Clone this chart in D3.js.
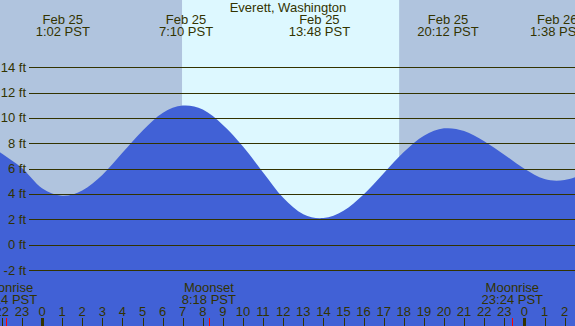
<!DOCTYPE html>
<html>
<head>
<meta charset="utf-8">
<script src="https://cdn.jsdelivr.net/npm/d3@7"></script>
<style>
  body { margin: 0; padding: 0; overflow: hidden; }
  svg { display: block; font-family: 'Liberation Sans', Arial, sans-serif; }
</style>
</head>
<body>
<svg id="chart" width="575" height="326"></svg>
<script>
'use strict';

var title = 'Everett, Washington';

// tide height (ft) at each hour, Feb 25 (hour 0 = midnight)
var tideHours = [-3, -2, -1, 0, 1, 2, 3, 4, 5, 6, 7, 8, 9, 10, 11, 12, 13, 14,
  15, 16, 17, 18, 19, 20, 21, 22, 23, 24, 25, 26, 27];
var tideFeet = [8.3, 7.2, 6.05, 4.45, 3.86, 4.28, 5.5, 7.25, 9.0, 10.4, 10.98,
  10.66, 9.45, 7.75, 5.7, 3.7, 2.4, 2.1, 2.68, 3.96, 5.64, 7.31, 8.6, 9.18,
  8.97, 8.17, 7.1, 6.0, 5.18, 5.1, 5.6];

// high / low tide labels at top
var extremeHours = [1.033, 7.167, 13.8, 20.2, 25.633];
var extremeDates = ['Feb 25', 'Feb 25', 'Feb 25', 'Feb 25', 'Feb 26'];
var extremeTimes = ['1:02 PST', '7:10 PST', '13:48 PST', '20:12 PST', '1:38 PST'];

// daylight
var sunrise = 6.967;
var sunset = 17.767;

// moon events
var moonHours = [-1.767, 8.3, 23.4];
var moonNames = ['Moonrise', 'Moonset', 'Moonrise'];
var moonTimes = ['22:14 PST', '8:18 PST', '23:24 PST'];

var feetTicks = [-2, 0, 2, 4, 6, 8, 10, 12, 14];
var hourTicks = d3.range(-2, 27);

var W = 575, H = 326;
var svg = d3.select('#chart');

var x = d3.scaleLinear().domain([0, 24]).range([42, 524.4]);
var y = d3.scaleLinear().domain([-2, 14]).range([270, 67.3]);

var ink = '#333300';

// night background
svg.append('rect').attr('x', 0).attr('y', 0).attr('width', W).attr('height', H)
  .attr('fill', '#b0c4de');

// day band
svg.append('rect')
  .attr('x', x(sunrise)).attr('y', 0)
  .attr('width', x(sunset) - x(sunrise)).attr('height', H)
  .attr('fill', '#ddf8ff');

// water
var tide = tideHours.map(function (h, i) { return { h: h, v: tideFeet[i] }; });
var area = d3.area()
  .x(function (d) { return x(d.h); })
  .y0(H)
  .y1(function (d) { return y(d.v); })
  .curve(d3.curveCardinal);
svg.append('path').datum(tide).attr('d', area).attr('fill', '#4161d6');

// grid lines + labels
var grid = svg.append('g');
grid.selectAll('line').data(feetTicks).enter().append('line')
  .attr('x1', 29).attr('x2', W)
  .attr('y1', function (d) { return Math.round(y(d)) + 0.5; })
  .attr('y2', function (d) { return Math.round(y(d)) + 0.5; })
  .attr('stroke', ink).attr('stroke-width', 1);
grid.selectAll('text').data(feetTicks).enter().append('text')
  .attr('x', 26)
  .attr('y', function (d) { return y(d) + 4.5; })
  .attr('text-anchor', 'end')
  .attr('font-size', 13)
  .attr('fill', ink)
  .text(function (d) { return d + ' ft'; });

// title
svg.append('text').attr('x', 288).attr('y', 12).attr('text-anchor', 'middle')
  .attr('font-size', 13).attr('fill', ink).text(title);

// tide extreme labels
var topLabels = svg.append('g').attr('font-size', 13).attr('fill', ink).attr('text-anchor', 'middle');
extremeHours.forEach(function (h, i) {
  topLabels.append('text').attr('x', x(h)).attr('y', 24).text(extremeDates[i]);
  topLabels.append('text').attr('x', x(h)).attr('y', 36).text(extremeTimes[i]);
});

// moon labels
var moon = svg.append('g').attr('font-size', 13).attr('fill', ink).attr('text-anchor', 'middle');
moonHours.forEach(function (h, i) {
  moon.append('text').attr('x', x(h)).attr('y', 292).text(moonNames[i]);
  moon.append('text').attr('x', x(h)).attr('y', 304).text(moonTimes[i]);
});

// hour axis
var hrs = svg.append('g');
hrs.selectAll('text').data(hourTicks).enter().append('text')
  .attr('x', function (d) { return x(d); })
  .attr('y', 316)
  .attr('text-anchor', 'middle')
  .attr('font-size', 13)
  .attr('fill', ink)
  .text(function (d) { return (d + 24) % 24; });
hrs.selectAll('line').data(hourTicks).enter().append('line')
  .attr('x1', function (d) { return Math.round(x(d)) + 0.5; })
  .attr('x2', function (d) { return Math.round(x(d)) + 0.5; })
  .attr('y1', 318).attr('y2', H)
  .attr('stroke', ink)
  .attr('stroke-width', function (d) { return d % 24 === 0 ? 3 : 1; });

// moon ticks
svg.append('g').selectAll('line').data(moonHours).enter().append('line')
  .attr('x1', function (d) { return Math.round(x(d)) + 0.5; })
  .attr('x2', function (d) { return Math.round(x(d)) + 0.5; })
  .attr('y1', 318).attr('y2', H)
  .attr('stroke', '#ff0000').attr('stroke-width', 1);
</script>
</body>
</html>
